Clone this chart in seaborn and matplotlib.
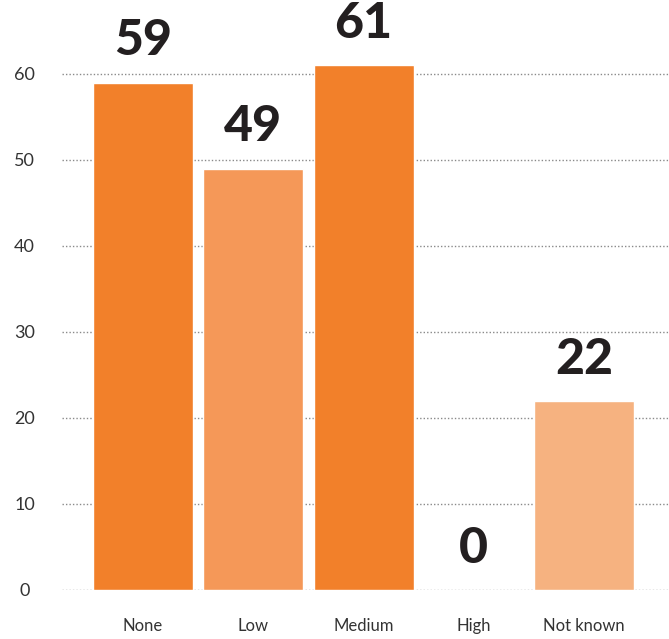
import matplotlib
matplotlib.use("Agg")
import matplotlib.pyplot as plt
import seaborn as sns
import pandas as pd

# Datos
categorias = ["None", "Low", "Medium", "High", "Not known"]
valores = [59, 49, 61, 0, 22]
colores = ["#F2802A", "#F59858", "#F2802A", "#F2802A", "#F6B280"]
ticks_y = [0, 10, 20, 30, 40, 50, 60]

sns.set_theme(style="white")
plt.rcParams["font.family"] = ["Lato", "DejaVu Sans"]

df = pd.DataFrame({"categoria": categorias, "valor": valores})

fig = plt.figure(figsize=(6.69, 6.39), dpi=100)
ax = fig.add_axes([62 / 669, 1 - 590 / 639, 607 / 669, 590 / 639])

sns.barplot(data=df, x="categoria", y="valor", hue="categoria",
            palette=colores, legend=False, width=0.907, saturation=1,
            ax=ax, zorder=2)

ax.set_xlim(-0.735, 4.77)
ax.set_ylim(0, 68.6)
ax.set_yticks(ticks_y)
ax.yaxis.grid(True, linestyle=(0, (1, 1.5)), color="#8a8a8a", linewidth=1, zorder=0)
ax.set_axisbelow(True)
for s in ax.spines.values():
    s.set_visible(False)

ax.set_xlabel("")
ax.set_ylabel("")
ax.tick_params(axis="x", length=0, pad=20, labelsize=12, labelcolor="#333333")
ax.tick_params(axis="y", length=0, pad=27, labelsize=13, labelcolor="#333333")
for lbl in ax.get_yticklabels():
    lbl.set_horizontalalignment("center")

# Etiquetas de valor sobre cada barra
for i, v in enumerate(valores):
    ax.annotate(str(v), xy=(i, v), xytext=(0, 19.5), textcoords="offset points",
                ha="center", va="baseline", fontsize=36, fontweight="black",
                color="#231f20", annotation_clip=False)

fig.savefig("out.png", dpi=100)
